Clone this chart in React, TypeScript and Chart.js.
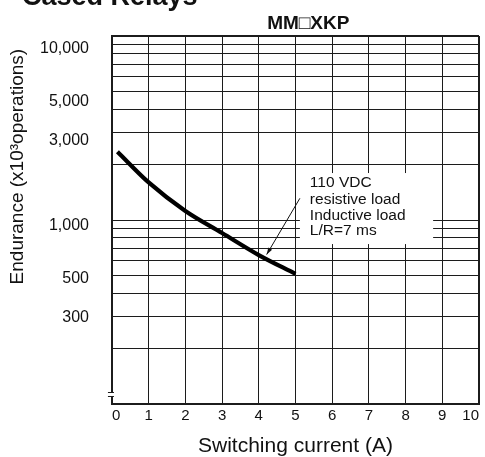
import { useEffect, useRef } from "react";
import { Chart, registerables } from "chart.js";

Chart.register(...registerables);

// ---- data ----
const currentA = [0.15, 1, 2, 3, 4, 5];
const enduranceK = [2350, 1600, 1120, 850, 645, 510];

const xTickValues = [0, 1, 2, 3, 4, 5, 6, 7, 8, 9, 10];
const yGridValues = [
  100, 200, 300, 400, 500, 600, 700, 800, 900, 1000,
  2000, 3000, 4000, 5000, 6000, 7000, 8000, 9000, 10000,
];
const yLabelValues = [300, 500, 1000, 3000, 5000, 10000];
// the printed labels sit slightly off the grid in the original; their own scale range
const yLabelMin = 98.1;
const yLabelMax = 11730;

const pageHeading = "Cased Relays";
const chartTitle = "MM\u25A1XKP";
const yAxisTitle = "Endurance (x10\u00B3operations)";
const xAxisTitle = "Switching current (A)";
const noteLines = ["110 VDC", "resistive load", "Inductive load", "L/R=7 ms"];
// note box and leader, in data units (x: A, y: x10^3 operations)
const noteBoxX = [5.12, 8.75];
const noteBoxY = [1800, 740];
const leaderFrom = [5.12, 1312];
const leaderTo = [4.215, 649];

const FONT = "'Liberation Sans', Arial, Helvetica, sans-serif";
const INK = "#111111";
const GRID = "#1c1c1c";

const extrasPlugin = {
  id: "extras",
  afterDraw(chart: any) {
    const { ctx, chartArea, scales } = chart;
    const xs = scales.x;
    const ys = scales.y;
    ctx.save();

    // axis break mark at the bottom of the y axis
    const bl = chartArea.left;
    const bb = chartArea.bottom;
    ctx.fillStyle = "#ffffff";
    ctx.fillRect(bl - 2, bb - 11, 4, 3);
    ctx.strokeStyle = GRID;
    ctx.lineWidth = 1;
    ctx.beginPath();
    ctx.moveTo(bl - 4, bb - 11.5);
    ctx.lineTo(bl + 2, bb - 11.5);
    ctx.moveTo(bl - 4, bb - 7.5);
    ctx.lineTo(bl + 2, bb - 7.5);
    ctx.stroke();

    // note box
    const x0 = xs.getPixelForValue(noteBoxX[0]);
    const x1 = xs.getPixelForValue(noteBoxX[1]);
    const y0 = ys.getPixelForValue(noteBoxY[0]);
    const y1 = ys.getPixelForValue(noteBoxY[1]);
    ctx.fillStyle = "#ffffff";
    ctx.fillRect(x0, y0, x1 - x0, y1 - y0);
    ctx.fillStyle = INK;
    ctx.font = `15.5px ${FONT}`;
    ctx.textAlign = "left";
    ctx.textBaseline = "alphabetic";
    const offs = [14, 31, 47, 62];
    noteLines.forEach((t, i) => ctx.fillText(t, x0 + 10, y0 + offs[i]));

    // leader line with arrow head
    const lx0 = xs.getPixelForValue(leaderFrom[0]);
    const ly0 = ys.getPixelForValue(leaderFrom[1]);
    const lx1 = xs.getPixelForValue(leaderTo[0]);
    const ly1 = ys.getPixelForValue(leaderTo[1]);
    ctx.strokeStyle = INK;
    ctx.lineWidth = 1;
    ctx.beginPath();
    ctx.moveTo(lx0, ly0);
    ctx.lineTo(lx1, ly1);
    ctx.stroke();
    const ang = Math.atan2(ly1 - ly0, lx1 - lx0);
    const ah = 7;
    const aw = 2.2;
    ctx.beginPath();
    ctx.moveTo(lx1, ly1);
    ctx.lineTo(
      lx1 - ah * Math.cos(ang) + aw * Math.sin(ang),
      ly1 - ah * Math.sin(ang) - aw * Math.cos(ang)
    );
    ctx.lineTo(
      lx1 - ah * Math.cos(ang) - aw * Math.sin(ang),
      ly1 - ah * Math.sin(ang) + aw * Math.cos(ang)
    );
    ctx.closePath();
    ctx.fillStyle = INK;
    ctx.fill();

    // chart title
    ctx.fillStyle = INK;
    ctx.font = `bold 19px ${FONT}`;
    ctx.textAlign = "center";
    ctx.textBaseline = "alphabetic";
    ctx.fillText(chartTitle, xs.getPixelForValue(5.35), 28.5);

    // page heading (cut off at the top)
    ctx.font = `bold 27px ${FONT}`;
    ctx.textAlign = "left";
    ctx.fillText(pageHeading, 22, 5);

    // y axis title
    ctx.font = `19px ${FONT}`;
    ctx.textAlign = "center";
    ctx.textBaseline = "middle";
    ctx.translate(18, chartArea.top + 0.355 * (chartArea.bottom - chartArea.top));
    ctx.rotate(-Math.PI / 2);
    ctx.fillText(yAxisTitle, 0, 0);

    ctx.restore();
  },
};

export default function App() {
  const canvasRef = useRef<HTMLCanvasElement | null>(null);

  useEffect(() => {
    const canvas = canvasRef.current;
    if (!canvas) return;
    const chart = new Chart(canvas, {
      type: "line",
      data: {
        datasets: [
          {
            data: currentA.map((x, i) => ({ x, y: enduranceK[i] })),
            borderColor: "#000000",
            borderWidth: 4.2,
            pointRadius: 0,
            cubicInterpolationMode: "monotone",
            fill: false,
            yAxisID: "y",
          },
        ],
      },
      options: {
        animation: false,
        responsive: true,
        maintainAspectRatio: false,
        layout: { padding: { top: 36, left: 17, right: 6, bottom: 0 } },
        plugins: {
          legend: { display: false },
          tooltip: { enabled: false },
          title: { display: false },
        },
        scales: {
          x: {
            type: "linear",
            min: 0,
            max: 10,
            afterBuildTicks: (scale: any) => {
              scale.ticks = xTickValues.map((v) => ({ value: v }));
            },
            ticks: {
              autoSkip: false,
              maxRotation: 0,
              align: "inner",
              padding: 3,
              color: INK,
              font: { family: FONT, size: 15 },
            },
            grid: {
              color: GRID,
              lineWidth: (c: any) => (c.tick && c.tick.value === 10 ? 2 : 1),
              drawTicks: false,
            },
            border: { display: true, color: GRID, width: 2 },
            title: {
              display: true,
              text: xAxisTitle,
              color: INK,
              font: { family: FONT, size: 21, lineHeight: 1 },
              padding: { top: 8, bottom: 0 },
            },
          },
          y: {
            type: "logarithmic",
            position: "left",
            min: 100,
            max: 10000,
            afterBuildTicks: (scale: any) => {
              scale.ticks = yGridValues.map((v) => ({ value: v }));
            },
            ticks: { display: false, autoSkip: false },
            grid: {
              color: GRID,
              lineWidth: (c: any) => (c.tick && c.tick.value === 10000 ? 2 : 1),
              drawTicks: false,
            },
            border: { display: true, color: GRID, width: 2 },
          },
          yl: {
            type: "logarithmic",
            position: "left",
            min: yLabelMin,
            max: yLabelMax,
            afterBuildTicks: (scale: any) => {
              scale.ticks = yLabelValues.map((v) => ({ value: v }));
            },
            ticks: {
              autoSkip: false,
              padding: 23,
              color: INK,
              font: { family: FONT, size: 16 },
              callback: (v: any) => Number(v).toLocaleString("en-US"),
            },
            grid: { display: false, drawTicks: false },
            border: { display: false },
          },
        },
      } as any,
      plugins: [extrasPlugin],
    });
    return () => chart.destroy();
  }, []);

  return (
    <div style={{ position: "fixed", left: 0, top: 0, width: 485, height: 457, background: "#ffffff" }}>
      <canvas ref={canvasRef} />
    </div>
  );
}
